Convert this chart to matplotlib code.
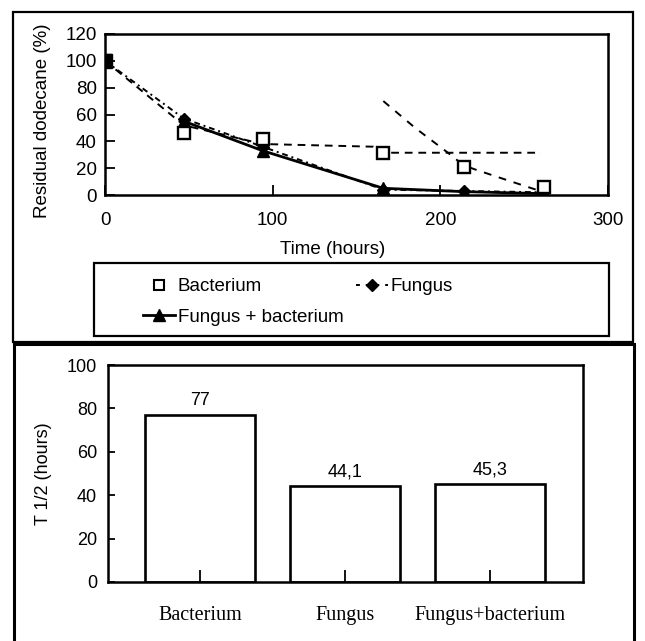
import matplotlib
matplotlib.use("Agg")
import matplotlib.pyplot as plt
from matplotlib.patches import Rectangle
from matplotlib.lines import Line2D

plt.rcParams['font.family'] = ['Liberation Sans', 'DejaVu Sans']

# ---- data: top panel ----
time_h = [0, 47, 94, 166, 214, 262]
bacterium = [100, 46, 42, 31, 21, 6]
fungus = [100, 57, 36, 4, 3, 2]
fungus_bact = [100, 55, 33, 5, 2.5, 1]

# dashed trend curves as drawn in the original
bact_trend_x = [0, 47, 94, 160, 166, 260]
bact_trend_y = [100, 52, 38, 36, 31.5, 31.5]
bact_trend2_x = [166, 185, 204, 214, 222, 240, 257]
bact_trend2_y = [70, 50, 32, 22, 18.5, 11, 4]

xticks_top = [0, 100, 200, 300]
yticks_top = [0, 20, 40, 60, 80, 100, 120]

# ---- data: bottom panel ----
groups = ['Bacterium', 'Fungus', 'Fungus+bacterium']
t_half = [77, 44.1, 45.3]
t_half_labels = ['77', '44,1', '45,3']
yticks_bot = [0, 20, 40, 60, 80, 100]

W, H = 645, 641
fig = plt.figure(figsize=(W / 100, H / 100), dpi=100)

def fx(px):
    return px / W

def fy(py):
    return 1 - py / H

FS = 13.5

# outer panel frames
fig.add_artist(Rectangle((fx(13), fy(342)), fx(633) - fx(13), fy(12) - fy(342),
                         transform=fig.transFigure, fill=False, lw=1.6, ec='black'))
fig.add_artist(Rectangle((fx(14), fy(660)), fx(634) - fx(14), fy(344) - fy(660),
                         transform=fig.transFigure, fill=False, lw=2.2, ec='black'))

# ---- top axes ----
ax1 = fig.add_axes([fx(105), fy(195), fx(608) - fx(105), fy(34) - fy(195)])
ax1.plot(bact_trend_x, bact_trend_y, ls=(0, (4, 3)), color='black', lw=1.4)
ax1.plot(bact_trend2_x, bact_trend2_y, ls=(0, (4, 4)), color='black', lw=1.4)
ax1.plot(time_h, fungus, ls=(0, (3, 2, 1, 2)), color='black', lw=1.4,
         marker='D', ms=6, mfc='black', mec='black')
ax1.plot(time_h[1:], fungus_bact[1:], ls='-', color='black', lw=2.0)
ax1.plot(time_h, fungus_bact, ls='none', marker='^', ms=8, mfc='black', mec='black')
ax1.plot(time_h, bacterium, ls='none', marker='s', ms=8, mfc='white', mec='black', mew=1.7)
ax1.plot(time_h[:1], bacterium[:1], ls='none', marker='s', ms=10, mfc='black', mec='black')

ax1.set_xlim(0, 300)
ax1.set_ylim(0, 120)
ax1.set_xticks(xticks_top)
ax1.set_yticks(yticks_top)
ax1.tick_params(direction='in', length=7, width=1.3, labelsize=FS)
ax1.tick_params(axis='x', pad=12)
ax1.tick_params(axis='y', pad=6)
for s in ax1.spines.values():
    s.set_linewidth(1.8)
ax1.set_xlabel('Time (hours)', fontsize=FS)
ax1.xaxis.set_label_coords((333 - 105) / 503, (195 - 249) / 161)
ax1.xaxis.label.set_va('center')
ax1.set_ylabel('Residual dodecane (%)', fontsize=FS)
ax1.yaxis.set_label_coords((42 - 105) / 503, (195 - 121) / 161)
ax1.yaxis.label.set_va('center')

# legend frame and legend
fig.add_artist(Rectangle((fx(94), fy(336)), fx(609) - fx(94), fy(263) - fy(336),
                         transform=fig.transFigure, fill=False, lw=1.6, ec='black'))
h_b = Line2D([], [], ls='none', marker='s', ms=7, mfc='white', mec='black', mew=1.5)
h_fb = Line2D([], [], ls='-', color='black', lw=2.0, marker='^', ms=8, mfc='black')
h_f = Line2D([], [], ls=(0, (2, 3)), color='black', lw=1.4, marker='D', ms=6, mfc='black')
leg = fig.legend([h_b, h_fb, h_f], ['Bacterium', 'Fungus + bacterium', 'Fungus'],
                 ncol=2, loc='upper left', bbox_to_anchor=(fx(143), fy(278)),
                 frameon=False, fontsize=FS, handlelength=1.7, handletextpad=0.15,
                 columnspacing=0.65, labelspacing=0.72, borderpad=0, borderaxespad=0)

# ---- bottom axes ----
ax2 = fig.add_axes([fx(108), fy(582), fx(583) - fx(108), fy(365) - fy(582)])
pos = list(range(len(groups)))
bars = ax2.bar(pos, t_half, width=0.76, color='white', edgecolor='black', lw=1.9)
for p, v, lab in zip(pos, t_half, t_half_labels):
    ax2.annotate(lab, (p, v), xytext=(0, 4), textcoords='offset points',
                 ha='center', va='bottom', fontsize=13)
ax2.set_xlim(-0.634, 2.64)
ax2.set_ylim(0, 100)
ax2.set_yticks(yticks_bot)
ax2.set_xticks(pos)
ax2.tick_params(direction='in', width=1.3, labelsize=13)
ax2.tick_params(axis='x', length=9, pad=17)
ax2.tick_params(axis='y', length=5, pad=8)
for s in ax2.spines.values():
    s.set_linewidth(1.8)
ax2.set_ylabel('T 1/2 (hours)', fontsize=13)
ax2.yaxis.set_label_coords((43 - 108) / 475, 0.5)
ax2.yaxis.label.set_va('center')
ax2.set_xticklabels(groups, family=['Liberation Serif', 'DejaVu Serif'], fontsize=14.5)

fig.savefig('out.png', dpi=100)
